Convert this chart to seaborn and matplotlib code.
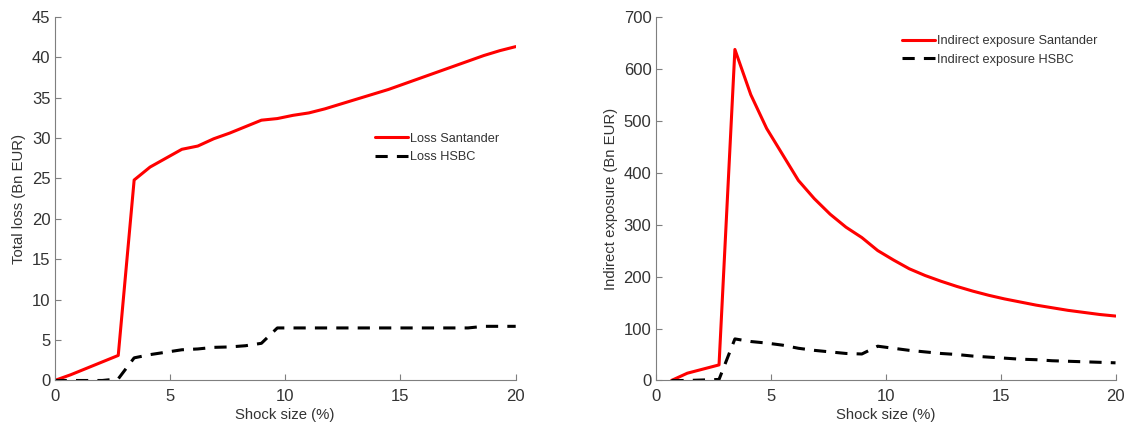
import numpy as np
import pandas as pd
import matplotlib
matplotlib.use("Agg")
import matplotlib.pyplot as plt
import seaborn as sns

# Shock grid (%)
shock = [0, 0.69, 1.38, 2.07, 2.76, 3.45, 4.14, 4.83, 5.52, 6.21,
         6.90, 7.59, 8.28, 8.97, 9.66, 10.34, 11.03, 11.72, 12.41, 13.10,
         13.79, 14.48, 15.17, 15.86, 16.55, 17.24, 17.93, 18.62, 19.31, 20.0]

# Total loss (Bn EUR)
loss_santander = [0, 0.7, 1.5, 2.3, 3.1, 24.8, 26.4, 27.5, 28.6, 29.0,
                  29.9, 30.6, 31.4, 32.2, 32.4, 32.8, 33.1, 33.6, 34.2, 34.8,
                  35.4, 36.0, 36.7, 37.4, 38.1, 38.8, 39.5, 40.2, 40.8, 41.3]
loss_hsbc = [0, 0, 0, 0, 0.2, 2.8, 3.2, 3.5, 3.8, 3.9,
             4.1, 4.15, 4.3, 4.6, 6.5, 6.5, 6.5, 6.5, 6.5, 6.5,
             6.5, 6.5, 6.5, 6.5, 6.5, 6.5, 6.5, 6.7, 6.7, 6.7]

# Indirect exposure (Bn EUR), no value at zero shock
exp_santander = [np.nan, 0, 14, 22, 30, 637, 550, 485, 435, 385,
                 350, 320, 295, 275, 250, 232, 215, 202, 191, 181,
                 172, 164, 157, 151, 145, 140, 135, 131, 127, 124]
exp_hsbc = [np.nan, 0, 0, 1, 2, 80, 75, 72, 68, 62,
            58, 55, 52, 51, 66, 62, 58, 55, 52, 50,
            47, 45, 43, 41, 40, 38, 37, 36, 35, 34]

sns.set_style("white")
plt.rcParams['font.family'] = ['Liberation Sans', 'DejaVu Sans']
plt.rcParams['font.size'] = 10.5

fig = plt.figure(figsize=(11.26, 4.23), dpi=100)
ax1 = fig.add_axes([0.0485, 0.1005, 0.4095, 0.86])
ax2 = fig.add_axes([0.5822, 0.1005, 0.4085, 0.86])

gray = '#7f7f7f'
txt = '#333333'
dash = (0, (4, 3))

def style_axes(ax, ylim, yticks, ylabel):
    ax.set_xlim(0, 20)
    ax.set_ylim(*ylim)
    ax.set_xticks([0, 5, 10, 15, 20])
    ax.set_yticks(yticks)
    ax.set_xlabel("Shock size (%)", color=txt, fontsize=10.7, labelpad=3)
    ax.set_ylabel(ylabel, color=txt, fontsize=10.7, labelpad=4)
    ax.tick_params(bottom=True, left=True, direction='in', length=4,
                   width=0.8, colors=gray, labelcolor=txt, labelsize=12)
    ax.tick_params(axis='x', pad=6)
    ax.tick_params(axis='y', pad=3)
    for s in ['top', 'right']:
        ax.spines[s].set_visible(False)
    for s in ['left', 'bottom']:
        ax.spines[s].set_color(gray)
        ax.spines[s].set_linewidth(0.8)

sns.lineplot(x=shock, y=loss_santander, ax=ax1, color='#ff0000', lw=2.2,
             label='Loss Santander')
sns.lineplot(x=shock, y=loss_hsbc, ax=ax1, color='black', lw=2.2,
             linestyle=dash, label='Loss HSBC')
style_axes(ax1, (0, 45), range(0, 46, 5), "Total loss (Bn EUR)")
leg1 = ax1.legend(loc='upper left', bbox_to_anchor=(0.67, 0.713), frameon=False,
                  handlelength=2.6, handletextpad=0.15, labelspacing=0.5,
                  fontsize=9.2)

sns.lineplot(x=shock, y=exp_santander, ax=ax2, color='#ff0000', lw=2.2,
             label='Indirect exposure Santander')
sns.lineplot(x=shock, y=exp_hsbc, ax=ax2, color='black', lw=2.2,
             linestyle=dash, label='Indirect exposure HSBC')
style_axes(ax2, (0, 700), range(0, 701, 100), "Indirect exposure (Bn EUR)")
leg2 = ax2.legend(loc='upper left', bbox_to_anchor=(0.51, 0.98), frameon=False,
                  handlelength=2.6, handletextpad=0.15, labelspacing=0.5,
                  fontsize=9.2)

for leg in (leg1, leg2):
    for t in leg.get_texts():
        t.set_color(txt)

fig.savefig("out.png", dpi=100)
